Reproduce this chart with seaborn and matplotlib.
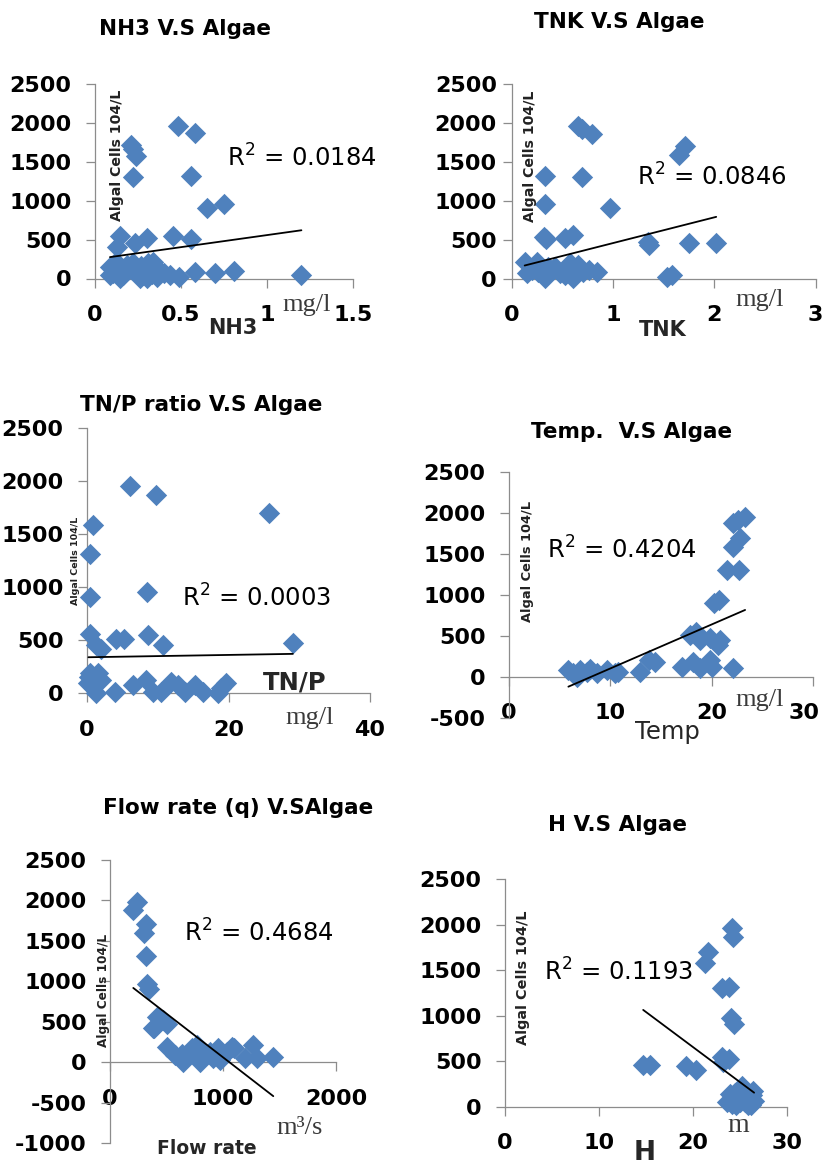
import numpy as np
import matplotlib
matplotlib.use("Agg")
import matplotlib.pyplot as plt
import matplotlib.transforms as mtransforms
import seaborn as sns

sns.set_theme(style="white")
plt.rcParams["font.family"] = ["DejaVu Sans"]

# ---------------- data ----------------
nh3_x = [0.48, 0.58, 0.21, 0.22, 0.24, 0.22, 0.56, 0.65, 0.75, 0.145, 0.13, 0.23, 0.30, 0.455,
         0.56, 0.12, 0.106, 0.165, 0.184, 0.242, 0.28, 0.31, 0.36, 0.40, 0.436, 0.49, 0.58, 0.70,
         0.81, 1.20, 0.087, 0.145, 0.26, 0.36, 0.22, 0.34, 0.09, 0.20, 0.27, 0.33, 0.30]
nh3_y = [1960, 1870, 1710, 1660, 1580, 1310, 1320, 910, 960, 540, 400, 450, 515, 540,
         510, 216, 67, 45, 173, 87, 45, 195, 131, 67, 45, 23, 87, 67,
         100, 50, 45, 3, 3, 23, 195, 216, 150, 120, 160, 60, 10]
nh3_trend = (310.0, 248.0)          # slope, intercept

tnk_x = [0.66, 0.70, 0.79, 1.65, 1.71, 0.33, 0.70, 0.33, 0.97, 0.32, 0.34, 0.53, 0.61, 1.35,
         1.36, 1.75, 2.02, 1.53, 1.58, 0.13, 0.15, 0.25, 0.33, 0.36, 0.48, 0.58, 0.61, 0.64,
         0.71, 0.76, 0.84, 0.26, 0.43, 0.53, 0.20, 0.66]
tnk_y = [1960, 1920, 1860, 1590, 1700, 1320, 1304, 961, 910, 540, 510, 522, 560, 478,
         430, 458, 465, 30, 45, 214, 73, 222, 9, 158, 73, 201, 9, 137,
         94, 109, 86, 94, 158, 51, 120, 180]
tnk_trend = (330.0, 130.0)

tnp_x = [6.1, 9.8, 25.7, 0.86, 0.48, 0.48, 8.5, 0.48, 1.3, 2.0, 4.15, 5.3, 8.6, 10.7, 29.1,
         0.4, 0.2, 1.6, 2.0, 1.3, 3.9, 6.5, 8.4, 9.3, 10.5, 11.9, 12.8, 13.8, 15.2, 16.4,
         18.5, 19.7, 19.0, 0.9, 0.3]
tnp_y = [1955, 1870, 1697, 1587, 1313, 911, 958, 559, 455, 415, 509, 509, 550, 455, 471,
         189, 94, 189, 125, 0, 16, 78, 125, 16, 16, 110, 78, 16, 78, 16,
         0, 94, 47, 60, 150]
tnp_trend = (1.1, 340.0)

temp_x = [23.3, 22.6, 22.1, 22.8, 22.1, 21.5, 22.7, 20.7, 20.2, 17.9, 18.5, 18.85, 19.84, 20.8,
          20.67, 17.05, 18.2, 18.85, 19.84, 20.0, 22.1, 14.4, 13.8, 12.9, 5.86, 7.0, 7.67,
          8.66, 9.64, 10.5, 10.8, 6.7, 6.35, 8.0]
temp_y = [1958, 1918, 1877, 1694, 1591, 1306, 1306, 939, 898, 510, 551, 449, 470, 449,
          388, 122, 184, 102, 204, 122, 102, 184, 204, 61, 82, 82, 61,
          41, 82, 41, 61, 0, 40, 90]
temp_trend = (53.8, -437.0)

flow_x = [236, 206, 319, 301, 319, 325, 348, 413, 472, 389, 501, 436, 383, 501, 575, 649, 723,
          767, 811, 796, 885, 959, 973, 1077, 1032, 1195, 1268, 1298, 1445, 693, 915, 634, 1100]
flow_y = [1985, 1882, 1709, 1602, 1314, 968, 902, 564, 523, 420, 473, 543, 420, 193, 90, 7, 173,
          214, 90, 7, 131, 173, 28, 193, 131, 49, 214, 49, 69, 90, 49, 100, 170]
flow_trend = (-1.08, 1140.0)

h_x = [24.2, 24.3, 21.6, 21.3, 23.05, 23.8, 24.0, 24.4, 23.05, 23.8, 23.2, 14.7, 15.4, 19.3,
       20.3, 24.0, 24.5, 25.0, 25.3, 25.6, 26.0, 26.3, 26.5, 24.2, 25.8, 25.2, 26.4, 24.8, 25.5,
       23.6, 24.6, 25.4, 26.1, 24.9, 25.9, 23.9, 26.2]
h_y = [1959, 1867, 1702, 1574, 1300, 1318, 971, 908, 549, 531, 490, 458, 458, 447,
       411, 80, 150, 60, 200, 100, 40, 130, 70, 30, 20, 230, 180, 110, 50,
       60, 20, 150, 90, 180, 60, 140, 20]
h_trend = (-76.9, 2195.0)

titles = ["NH3 V.S Algae", "TNK V.S Algae", "TN/P ratio V.S Algae",
          "Temp.  V.S Algae", "Flow rate (q) V.SAlgae", "H V.S Algae"]
r2_labels = ["0.0184", "0.0846", "0.0003", "0.4204", "0.4684", "0.1193"]
ylabel_text = "Algal Cells 104/L"

# ---------------- layout helpers ----------------
W, H = 826, 1165
BLUE = "#4F81BD"
AXC = "#8c8c8c"
fig = plt.figure(figsize=(W / 100, H / 100), dpi=100)
fig.patch.set_facecolor("white")


def make_ax(x0, x1, yt, yb):
    return fig.add_axes([x0 / W, 1 - yb / H, (x1 - x0) / W, (yb - yt) / H])


def ftext(x, y, s, **kw):
    kw.setdefault("ha", "center")
    kw.setdefault("va", "center")
    fig.text(x / W, 1 - y / H, s, **kw)


def panel(box, x, y, trend, xlim, ylim, xticks, xticklabels, yticks, ypad=10.5, xpad=12.5):
    ax = make_ax(*box)
    sns.scatterplot(x=x, y=y, ax=ax, marker="D", s=118, color=BLUE, linewidth=0,
                    clip_on=False, zorder=3, legend=False)
    xs = np.array([min(x), max(x)])
    ax.plot(xs, trend[0] * xs + trend[1], color="black", lw=1.3, zorder=4, clip_on=False)
    ax.set_xlim(*xlim)
    ax.set_ylim(*ylim)
    for s in ("top", "right"):
        ax.spines[s].set_visible(False)
    ax.spines["bottom"].set_position(("data", 0))
    ax.spines["left"].set_position(("data", 0))
    for s in ("bottom", "left"):
        ax.spines[s].set_color(AXC)
        ax.spines[s].set_linewidth(0.9)
    ax.set_xticks(xticks)
    ax.set_xticklabels(xticklabels, fontweight="bold", fontsize=16, color="black")
    ax.set_yticks(yticks)
    ax.set_yticklabels([str(v) for v in yticks], fontweight="bold", fontsize=16, color="black")
    ax.tick_params(axis="both", direction="out", length=6.5, width=0.9, color=AXC)
    ax.tick_params(axis="y", pad=ypad, left=True)
    ax.tick_params(axis="x", pad=xpad, bottom=True)
    ax.set_xlabel("")
    ax.set_ylabel("")
    ax.grid(False)
    ax.set_facecolor("none")
    return ax


yt_std = [0, 500, 1000, 1500, 2000, 2500]

# Panel 1: NH3
panel((95, 353, 84, 278.5), nh3_x, nh3_y, nh3_trend, (0, 1.5), (0, 2500),
      [0, 0.5, 1, 1.5], ["0", "0.5", "1", "1.5"], yt_std)
# Panel 2: TNK
panel((511.5, 815.5, 84, 279), tnk_x, tnk_y, tnk_trend, (0, 3), (0, 2500),
      [0, 1, 2, 3], ["0", "1", "2", "3"], yt_std, ypad=4.0)
# Panel 3: TN/P
panel((87, 370, 428.3, 693.3), tnp_x, tnp_y, tnp_trend, (0, 40), (0, 2500),
      [0, 20, 40], ["0", "20", "40"], yt_std)
# Panel 4: Temp
ax4 = panel((509, 813, 472.3, 717.6), temp_x, temp_y, temp_trend, (0, 30), (-500, 2500),
            [0, 10, 20, 30], ["0", "10", "20", "30"], [-500] + yt_std)
# keep the last tick label inside the picture, as in the reference
last = ax4.get_xticklabels()[-1]
last.set_transform(last.get_transform() +
                   mtransforms.ScaledTranslation(-9 / 100, 0, fig.dpi_scale_trans))
# Panel 5: Flow rate
panel((110, 336, 860, 1143), flow_x, flow_y, flow_trend, (0, 2000), (-1000, 2500),
      [0, 1000, 2000], ["0", "1000", "2000"], [-1000, -500] + yt_std)
# Panel 6: H
panel((505, 787, 879, 1107), h_x, h_y, h_trend, (0, 30), (0, 2500),
      [0, 10, 20, 30], ["0", "10", "20", "30"], yt_std)

# ---------------- titles ----------------
title_pos = [(185, 29), (619, 22), (201, 405), (632, 432), (238, 808), (618, 825)]
for t, (px, py) in zip(titles, title_pos):
    ftext(px, py, t, fontsize=15.5, fontweight="bold", color="black")

# ---------------- R^2 labels ----------------
r2_pos = [(302, 158), (712, 177), (257, 598), (622, 550), (259, 933), (619, 972)]
for r, (px, py) in zip(r2_labels, r2_pos):
    ftext(px, py, r"R$^{2}$ = " + r, fontsize=17.5, color="black")

# ---------------- rotated y labels ----------------
ylab_pos = [(117, 155, 10.2), (530, 156, 10.2), (75, 561, 6.8),
            (528, 561, 9.4), (103, 990, 8.7), (523, 978, 10.4)]
for px, py, fs in ylab_pos:
    ftext(px, py, ylabel_text, fontsize=fs, fontweight="bold", rotation=90, color="#222222")

# ---------------- axis names and units ----------------
SERIF = ["Liberation Serif", "DejaVu Serif"]
UNITC = "#3a3a3a"
ftext(233, 328, "NH3", fontsize=15, fontweight="bold")
ftext(307, 305, "mg/l", fontsize=19, family=SERIF, color=UNITC)
ftext(663, 330, "TNK", fontsize=15, fontweight="bold")
ftext(760, 300, "mg/l", fontsize=19, family=SERIF, color=UNITC)
ftext(295, 682, "TN/P", fontsize=17.5, fontweight="bold")
ftext(310, 718, "mg/l", fontsize=19, family=SERIF, color=UNITC)
ftext(667, 732, "Temp", fontsize=17.5)
ftext(760, 700, "mg/l", fontsize=19, family=SERIF, color=UNITC)
ftext(207, 1148, "Flow rate", fontsize=13.5, fontweight="bold")
ftext(300, 1128, "m³/s", fontsize=19, family=SERIF, color=UNITC)
ftext(645, 1153, "H", fontsize=19, fontweight="bold")
ftext(738, 1125, "m", fontsize=20, family=SERIF, color=UNITC)

fig.savefig("out.png", dpi=100)
